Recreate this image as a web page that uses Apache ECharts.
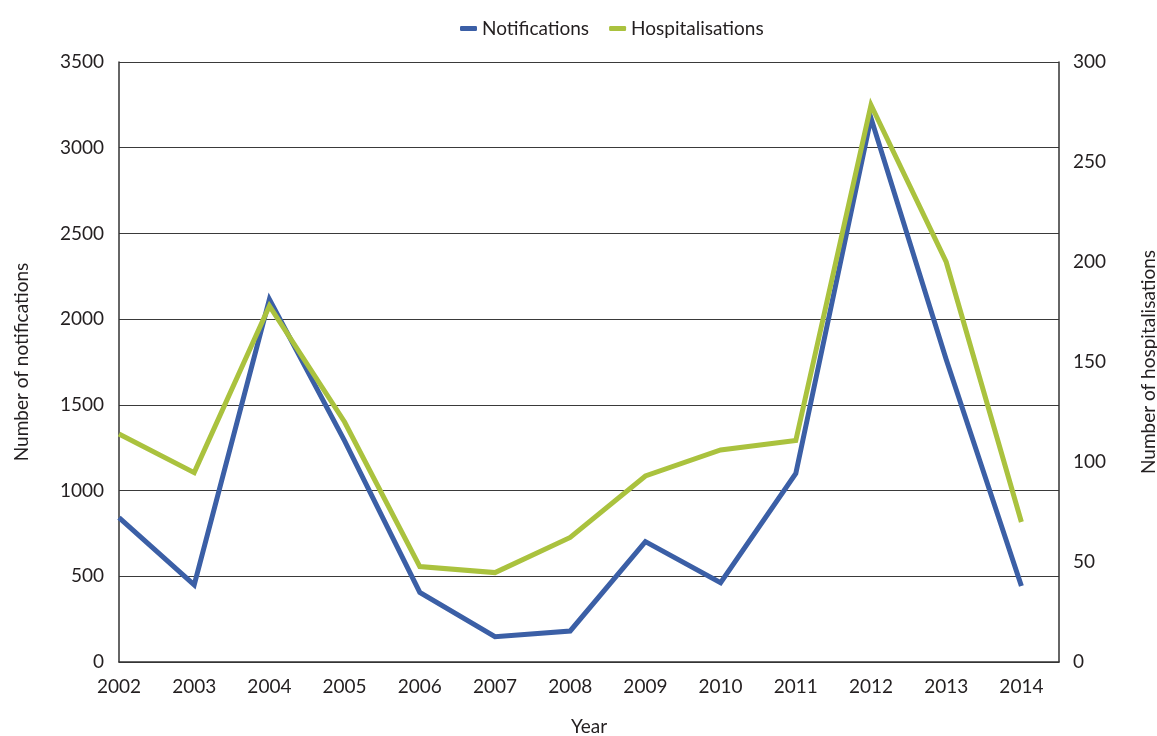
<!DOCTYPE html>
<html>
<head>
<meta charset="utf-8">
<script src="https://cdn.jsdelivr.net/npm/echarts@6/dist/echarts.min.js"></script>
<style>
  html, body { margin: 0; padding: 0; background: #ffffff; }
  #chart { width: 1157px; height: 736px; }
</style>
</head>
<body>
<div id="chart"></div>
<script>
// Yearly counts, 2002–2014
const years = [2002, 2003, 2004, 2005, 2006, 2007, 2008, 2009, 2010, 2011, 2012, 2013, 2014];
const notifications = [842, 450, 2115, 1290, 406, 148, 181, 702, 463, 1100, 3173, 1765, 443];
const hospitalisations = [114, 94.7, 178, 120, 47.7, 44.7, 62.3, 93, 106, 110.7, 278.5, 200, 70];

const seriesNames = ['Notifications', 'Hospitalisations'];
const colors = ['#3B5FA6', '#AAC23E'];
const textColor = '#231F20';
const fontFamily = 'Lato, "Open Sans", sans-serif';
const fontSize = 19;

const chart = echarts.init(document.getElementById('chart'));

// plain integers, no thousands separators
const plain = v => String(v);

chart.setOption({
  animation: false,
  textStyle: { fontFamily: fontFamily, color: textColor },
  legend: {
    top: 14,
    left: 455,
    itemWidth: 17,
    itemHeight: 5,
    itemGap: 20,
    icon: 'roundRect',
    textStyle: { fontSize: fontSize, color: textColor, fontFamily: fontFamily },
    data: seriesNames.map((n, i) => ({ name: n, itemStyle: { color: colors[i] } }))
  },
  grid: { left: 119, right: 98, top: 62, bottom: 74, containLabel: false, outerBoundsMode: 'none' },
  xAxis: {
    type: 'value',
    min: 2002,
    max: 2014.5,
    interval: 1,
    name: 'Year',
    nameLocation: 'middle',
    nameGap: 55,
    nameTextStyle: { fontSize: fontSize, color: textColor, fontFamily: fontFamily },
    axisLine: { show: true, lineStyle: { color: '#333333', width: 1.5 } },
    axisTick: { show: false },
    splitLine: { show: false },
    axisLabel: {
      fontSize: fontSize,
      color: textColor,
      margin: 15,
      showMaxLabel: true,
      formatter: v => (Number.isInteger(v) ? String(v) : '')
    }
  },
  yAxis: [
    {
      type: 'value',
      min: 0,
      max: 3500,
      interval: 500,
      name: 'Number of notifications',
      nameLocation: 'middle',
      nameGap: 88,
      nameTextStyle: { fontSize: fontSize, color: textColor, fontFamily: fontFamily },
      axisLine: { show: true, lineStyle: { color: '#333333', width: 1.5 } },
      axisTick: { show: false },
      axisLabel: { fontSize: fontSize, color: textColor, margin: 15, formatter: plain },
      splitLine: { show: true, lineStyle: { color: '#3a3a3a', width: 1 } }
    },
    {
      type: 'value',
      min: 0,
      max: 300,
      interval: 50,
      name: 'Number of hospitalisations',
      nameLocation: 'middle',
      nameGap: 80,
      nameTextStyle: { fontSize: fontSize, color: textColor, fontFamily: fontFamily },
      axisLine: { show: true, lineStyle: { color: '#333333', width: 1.5 } },
      axisTick: { show: false },
      axisLabel: { fontSize: fontSize, color: textColor, margin: 14, formatter: plain },
      splitLine: { show: false }
    }
  ],
  series: [
    {
      name: seriesNames[0],
      type: 'line',
      yAxisIndex: 0,
      data: years.map((y, i) => [y, notifications[i]]),
      showSymbol: false,
      symbol: 'none',
      lineStyle: { color: colors[0], width: 5, join: 'miter' },
      itemStyle: { color: colors[0] },
      z: 2
    },
    {
      name: seriesNames[1],
      type: 'line',
      yAxisIndex: 1,
      data: years.map((y, i) => [y, hospitalisations[i]]),
      showSymbol: false,
      symbol: 'none',
      lineStyle: { color: colors[1], width: 5, join: 'miter' },
      itemStyle: { color: colors[1] },
      z: 3
    }
  ]
});
</script>
</body>
</html>
